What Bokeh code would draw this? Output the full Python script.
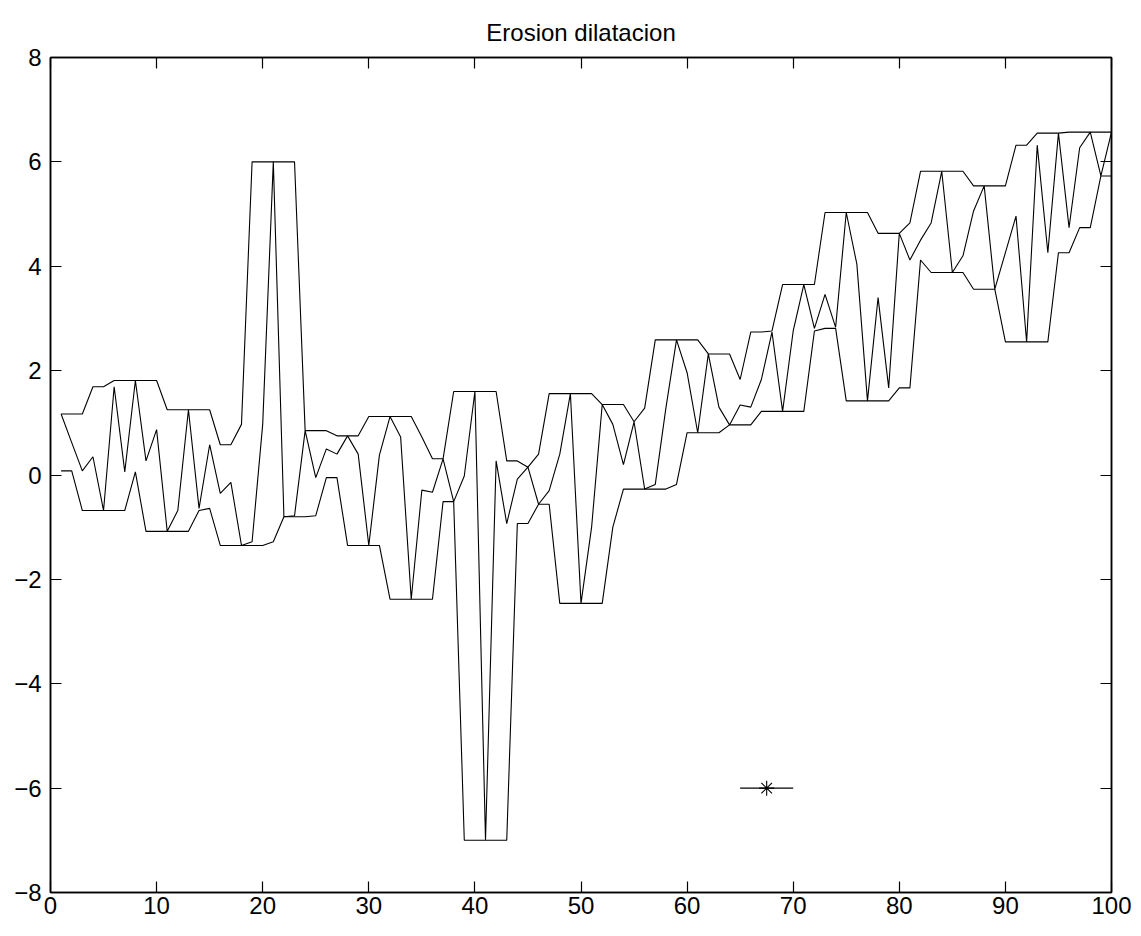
from bokeh.plotting import figure
from bokeh.models import LinearAxis, Range1d, FixedTicker
from bokeh.embed import file_html
from bokeh.resources import INLINE

x = list(range(1, 101))

signal = [1.17, 0.62, 0.08, 0.35, -0.68, 1.69, 0.06, 1.81, 0.27, 0.87,
          -1.08, -0.68, 1.25, -0.64, 0.58, -0.35, -0.14, -1.35, -1.28, 0.97,
          6.00, -0.80, -0.78, 0.85, -0.05, 0.50, 0.40, 0.75, 0.40, -1.35,
          0.38, 1.12, 0.73, -2.38, -0.29, -0.33, 0.31, -0.51, -0.02, 1.60,
          -7.00, 0.27, -0.93, -0.08, 0.15, -0.56, -0.30, 0.40, 1.56, -2.46,
          -1.00, 1.35, 0.97, 0.20, 1.02, -0.27, -0.18, 1.28, 2.59, 1.96,
          0.81, 2.32, 1.30, 0.96, 1.34, 1.30, 1.83, 2.74, 1.22, 2.76,
          3.65, 2.81, 3.46, 2.83, 5.03, 4.04, 1.42, 3.40, 1.67, 4.63,
          4.12, 4.50, 4.83, 5.82, 3.88, 4.20, 5.06, 5.54, 3.56, 4.26,
          4.96, 2.55, 6.32, 4.26, 6.55, 4.74, 6.27, 6.57, 5.73, 6.57]

erosion = [0.08, 0.08, -0.68, -0.68, -0.68, -0.68, -0.68, 0.06, -1.08, -1.08,
           -1.08, -1.08, -1.08, -0.68, -0.64, -1.35, -1.35, -1.35, -1.35, -1.35,
           -1.28, -0.80, -0.80, -0.80, -0.78, -0.05, -0.05, -1.35, -1.35, -1.35,
           -1.35, -2.38, -2.38, -2.38, -2.38, -2.38, -0.51, -0.51, -7.00, -7.00,
           -7.00, -7.00, -7.00, -0.93, -0.93, -0.56, -0.56, -2.46, -2.46, -2.46,
           -2.46, -2.46, -1.00, -0.27, -0.27, -0.27, -0.27, -0.27, -0.18, 0.81,
           0.81, 0.81, 0.81, 0.96, 0.96, 0.96, 1.22, 1.22, 1.22, 1.22,
           1.22, 2.76, 2.81, 2.81, 1.42, 1.42, 1.42, 1.42, 1.42, 1.67,
           1.67, 4.12, 3.88, 3.88, 3.88, 3.88, 3.56, 3.56, 3.56, 2.55,
           2.55, 2.55, 2.55, 2.55, 4.26, 4.26, 4.74, 4.74, 5.73, 5.73]

dilation = [1.17, 1.17, 1.17, 1.69, 1.69, 1.81, 1.81, 1.81, 1.81, 1.81,
            1.25, 1.25, 1.25, 1.25, 1.25, 0.58, 0.58, 0.97, 6.00, 6.00,
            6.00, 6.00, 6.00, 0.85, 0.85, 0.85, 0.75, 0.75, 0.75, 1.12,
            1.12, 1.12, 1.12, 1.12, 0.73, 0.31, 0.31, 1.60, 1.60, 1.60,
            1.60, 1.60, 0.27, 0.27, 0.15, 0.40, 1.56, 1.56, 1.56, 1.56,
            1.56, 1.35, 1.35, 1.35, 1.02, 1.28, 2.59, 2.59, 2.59, 2.59,
            2.59, 2.32, 2.32, 2.32, 1.83, 2.74, 2.74, 2.76, 3.65, 3.65,
            3.65, 3.65, 5.03, 5.03, 5.03, 5.03, 5.03, 4.63, 4.63, 4.63,
            4.83, 5.82, 5.82, 5.82, 5.82, 5.82, 5.54, 5.54, 5.54, 5.54,
            6.32, 6.32, 6.55, 6.55, 6.55, 6.57, 6.57, 6.57, 6.57, 6.57]

seg_x = [65, 70]
seg_y = [-6, -6]
star_x = [67.5]
star_y = [-6]

x_ticks = [0, 10, 20, 30, 40, 50, 60, 70, 80, 90, 100]
y_ticks = [-8, -6, -4, -2, 0, 2, 4, 6, 8]

FONT = "Liberation Sans"

p = figure(width=1133, height=928, output_backend="svg", toolbar_location=None,
           x_range=Range1d(0, 100), y_range=Range1d(-8, 8),
           min_border_left=50, min_border_right=22, min_border_top=57,
           min_border_bottom=36, title="Erosion dilatacion")
p.title.align = "center"
p.title.text_font = FONT
p.title.text_font_size = "24px"
p.title.text_font_style = "normal"
p.title.text_color = "black"
p.title.standoff = 23

p.xgrid.visible = False
p.ygrid.visible = False
p.outline_line_color = "black"
p.outline_line_width = 1.5
p.background_fill_color = "white"
p.border_fill_color = "white"

def style_axis(ax, ticks, labels=True):
    ax.ticker = FixedTicker(ticks=ticks)
    ax.major_tick_in = 11
    ax.major_tick_out = 0
    ax.minor_tick_line_color = None
    ax.major_tick_line_color = "black"
    ax.major_tick_line_width = 1.2
    ax.axis_line_color = "black"
    ax.axis_line_width = 1.5
    if labels:
        ax.major_label_text_font = FONT
        ax.major_label_text_font_size = "24px"
        ax.major_label_text_color = "black"
        ax.major_label_standoff = 6
    else:
        ax.major_label_text_color = None
        ax.major_label_text_font_size = "0px"
        ax.major_label_standoff = 0

style_axis(p.xaxis[0], x_ticks)
style_axis(p.yaxis[0], y_ticks)
p.yaxis[0].major_label_standoff = 9
p.xaxis[0].major_label_standoff = 4

top_ax = LinearAxis()
style_axis(top_ax, x_ticks, labels=False)
p.add_layout(top_ax, "above")
right_ax = LinearAxis()
style_axis(right_ax, y_ticks, labels=False)
p.add_layout(right_ax, "right")

p.line(x, dilation, line_color="black", line_width=1.1)
p.line(x, erosion, line_color="black", line_width=1.1)
p.line(x, signal, line_color="black", line_width=1.1)
p.line(seg_x, seg_y, line_color="black", line_width=1.1)
p.scatter(star_x, star_y, marker="asterisk", size=15, line_color="black", line_width=1.1)

open("out.html", "w").write(file_html(p, INLINE))
